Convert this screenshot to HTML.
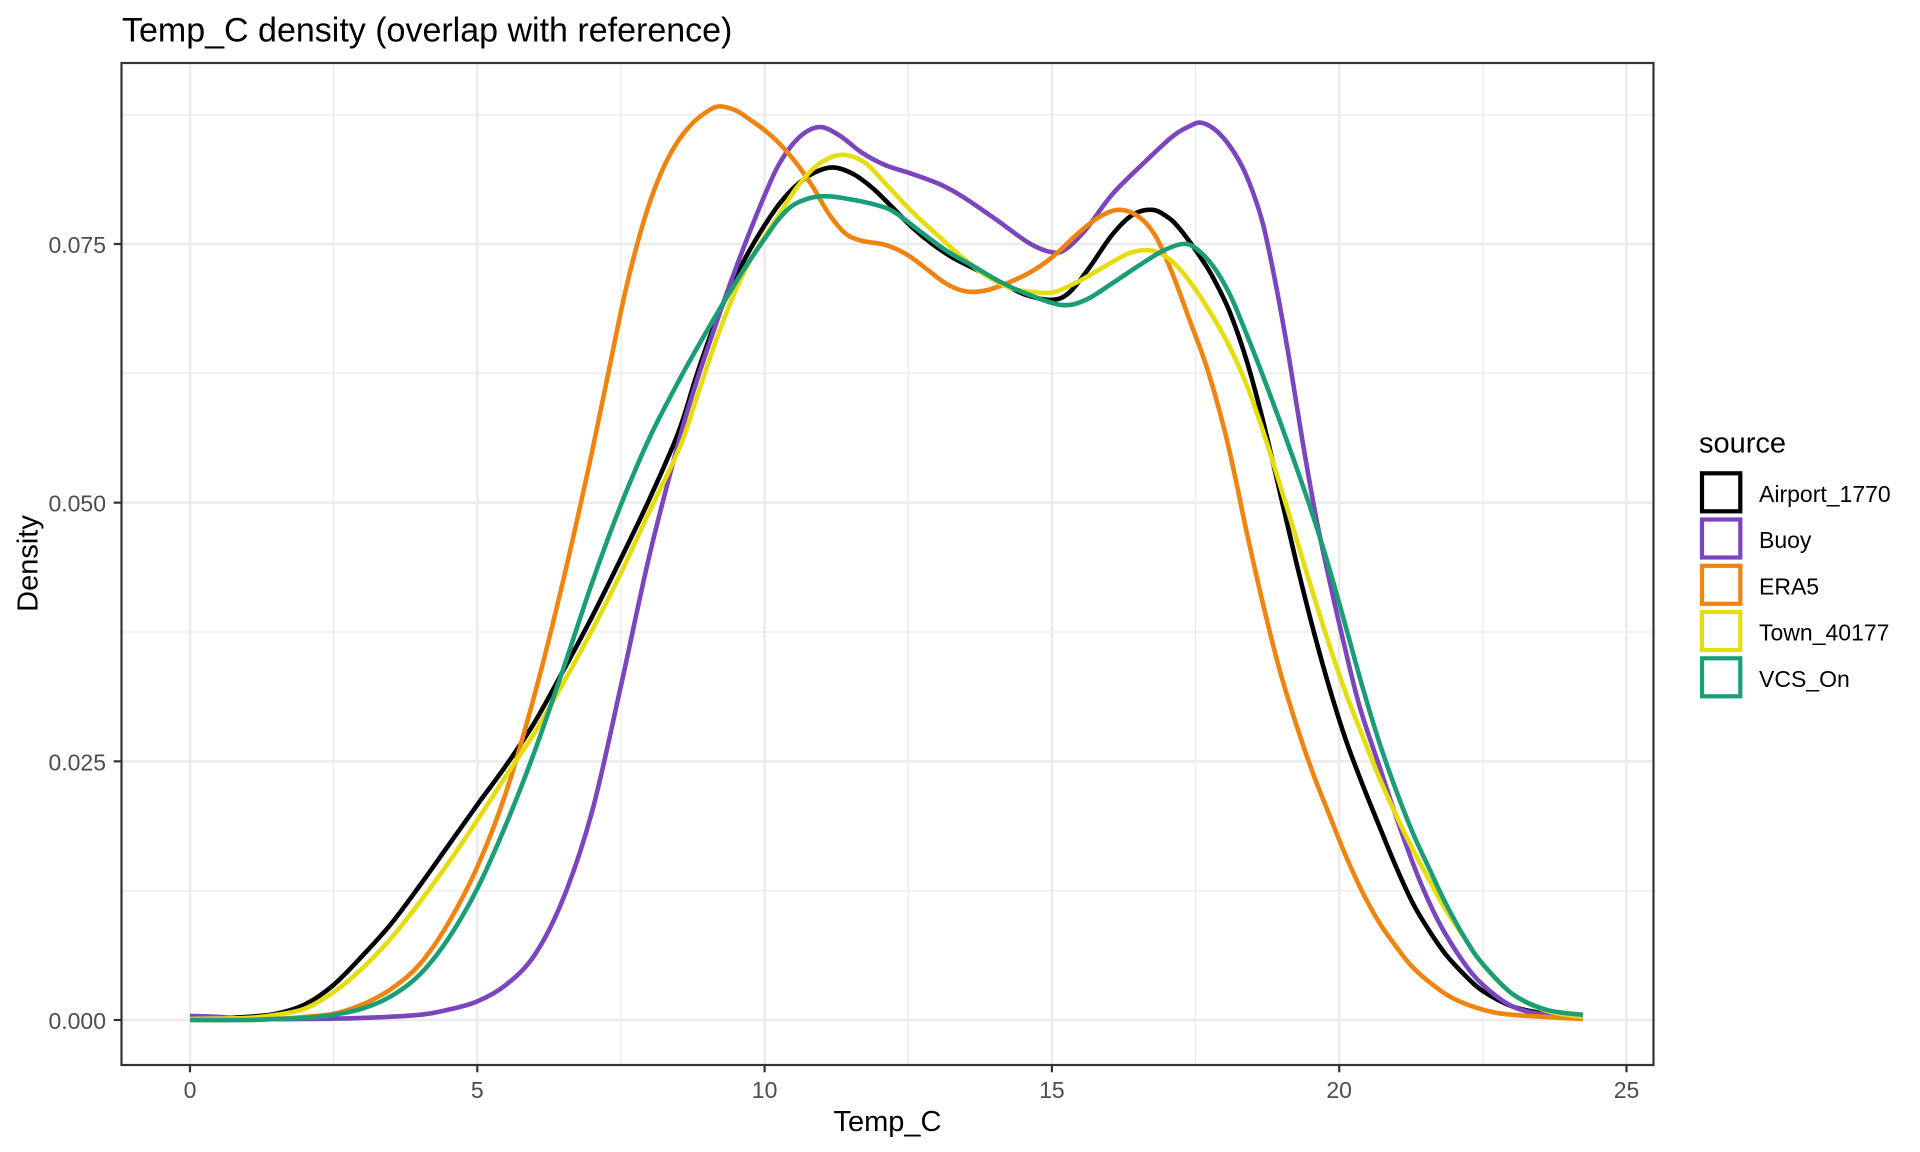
<!DOCTYPE html>
<html>
<head>
<meta charset="utf-8">
<style>
  html,body{margin:0;padding:0;background:#ffffff;}
  svg{display:block;}
  text{font-family:"Liberation Sans", Arial, sans-serif;}
</style>
</head>
<body>
<svg width="1920" height="1152" viewBox="0 0 1920 1152" xmlns="http://www.w3.org/2000/svg">
  <rect x="0" y="0" width="1920" height="1152" fill="#ffffff"/>

  <!-- Title -->
  <text x="122" y="41.7" font-size="34" fill="#000000">Temp_C density (overlap with reference)</text>

  <!-- Panel background -->
  <rect x="121.5" y="63" width="1532" height="1002" fill="#ffffff"/>

  <!-- Minor grid -->
  <g stroke="#EBEBEB" stroke-width="1.3" fill="none">
    <line x1="333.65" y1="63" x2="333.65" y2="1065"/>
    <line x1="620.95" y1="63" x2="620.95" y2="1065"/>
    <line x1="908.25" y1="63" x2="908.25" y2="1065"/>
    <line x1="1195.55" y1="63" x2="1195.55" y2="1065"/>
    <line x1="1482.85" y1="63" x2="1482.85" y2="1065"/>
    <line x1="121.5" y1="890.67" x2="1653.5" y2="890.67"/>
    <line x1="121.5" y1="632" x2="1653.5" y2="632"/>
    <line x1="121.5" y1="373.33" x2="1653.5" y2="373.33"/>
    <line x1="121.5" y1="114.67" x2="1653.5" y2="114.67"/>
  </g>
  <!-- Major grid -->
  <g stroke="#EBEBEB" stroke-width="2.5" fill="none">
    <line x1="190" y1="63" x2="190" y2="1065"/>
    <line x1="477.3" y1="63" x2="477.3" y2="1065"/>
    <line x1="764.6" y1="63" x2="764.6" y2="1065"/>
    <line x1="1051.9" y1="63" x2="1051.9" y2="1065"/>
    <line x1="1339.2" y1="63" x2="1339.2" y2="1065"/>
    <line x1="1626.5" y1="63" x2="1626.5" y2="1065"/>
    <line x1="121.5" y1="1020" x2="1653.5" y2="1020"/>
    <line x1="121.5" y1="761.33" x2="1653.5" y2="761.33"/>
    <line x1="121.5" y1="502.67" x2="1653.5" y2="502.67"/>
    <line x1="121.5" y1="244" x2="1653.5" y2="244"/>
  </g>

  <!-- Density curves (data coordinates) -->
  <g transform="matrix(57.46,0,0,-10346.7,190,1020)" fill="none" stroke-width="4.6" stroke-linejoin="round" stroke-linecap="butt">
    <polyline class="c" vector-effect="non-scaling-stroke" stroke="#000000" points="0,0.0003 0.5,0.0002 1,0.0003 1.5,0.0006 2,0.0015 2.5,0.0034 3,0.0062 3.5,0.0093 4,0.0130 4.5,0.0169 5,0.0208 5.5,0.0246 6,0.0288 6.5,0.0338 7,0.0390 7.5,0.0446 8,0.0504 8.5,0.0568 8.81,0.0622 9.1,0.0668 9.39,0.0706 9.68,0.0738 10,0.0768 10.26,0.0789 10.54,0.0806 10.83,0.0818 11.18,0.0824 11.53,0.0818 11.88,0.0804 12.23,0.0785 12.57,0.0766 12.92,0.0750 13.27,0.0737 13.73,0.0724 14.14,0.0712 14.54,0.0701 15,0.0696 15.3,0.0703 15.65,0.0727 16.05,0.0759 16.4,0.0778 16.75,0.0783 17.04,0.0775 17.22,0.0765 17.4,0.0752 17.6,0.0736 17.8,0.0718 18.09,0.0685 18.38,0.0639 18.67,0.0580 18.96,0.0512 19.25,0.0443 19.54,0.0379 19.83,0.0321 20.12,0.0270 20.41,0.0227 20.7,0.0187 20.99,0.0148 21.28,0.0113 21.57,0.0086 21.86,0.0063 22.21,0.0042 22.5,0.0028 23.02,0.0013 23.6,0.0006 24.24,0.0003"/>
    <polyline class="c" vector-effect="non-scaling-stroke" stroke="#7B45BE" points="0,0.0004 0.5,0.0003 1,0.0001 2,0.0001 3,0.0002 4,0.0005 4.5,0.0010 5,0.0018 5.5,0.0034 6,0.0063 6.5,0.0118 7,0.0202 7.5,0.0323 8,0.0450 8.52,0.0562 8.81,0.0616 9.1,0.0664 9.39,0.0710 9.68,0.0753 10,0.0797 10.26,0.0828 10.6,0.0853 10.95,0.0863 11.3,0.0855 11.7,0.0838 12.11,0.0826 12.5,0.0819 13.04,0.0808 13.44,0.0796 14.02,0.0774 14.6,0.0751 15,0.0742 15.24,0.0745 15.59,0.0764 16.05,0.0798 16.63,0.0830 17.1,0.0854 17.4,0.0864 17.62,0.0867 17.91,0.0857 18.2,0.0836 18.43,0.0810 18.67,0.0770 18.9,0.0710 19.13,0.0639 19.36,0.0560 19.6,0.0485 19.83,0.0425 20.06,0.0369 20.35,0.0304 20.7,0.0245 21.05,0.0187 21.4,0.0135 21.74,0.0094 22.15,0.0057 22.5,0.0034 23.02,0.0013 23.6,0.0005 24.24,0.0002"/>
    <polyline class="c" vector-effect="non-scaling-stroke" stroke="#EF8411" points="0,0.0000 1,0.0000 1.5,0.0001 2,0.0003 2.5,0.0006 3,0.0015 3.5,0.0030 4,0.0054 4.5,0.0094 5,0.0148 5.5,0.0220 6,0.0315 6.5,0.0426 7,0.0550 7.5,0.0685 7.75,0.0743 8,0.0790 8.25,0.0825 8.5,0.0850 8.75,0.0867 9,0.0878 9.21,0.0883 9.5,0.0879 9.75,0.0870 10,0.0860 10.26,0.0847 10.54,0.0829 10.83,0.0806 11.12,0.0779 11.41,0.0760 11.7,0.0753 12.11,0.0749 12.5,0.0739 12.86,0.0724 13.15,0.0712 13.44,0.0705 13.73,0.0704 14.08,0.0709 14.6,0.0722 15,0.0737 15.47,0.0761 15.82,0.0776 16.17,0.0783 16.52,0.0776 16.81,0.0757 17.1,0.0721 17.4,0.0676 17.7,0.0630 18.0,0.0571 18.2,0.0522 18.38,0.0474 18.67,0.0403 18.96,0.0339 19.25,0.0286 19.54,0.0239 19.83,0.0198 20.12,0.0158 20.41,0.0123 20.7,0.0094 20.99,0.0071 21.28,0.0051 21.63,0.0034 21.98,0.0021 22.5,0.0010 23.02,0.0005 24.24,0.0001"/>
    <polyline class="c" vector-effect="non-scaling-stroke" stroke="#E5DD10" points="0,0.0001 1,0.0002 1.5,0.0005 2,0.0011 2.5,0.0027 3,0.0050 3.5,0.0079 4,0.0114 4.5,0.0152 5,0.0193 5.5,0.0236 6,0.0278 6.5,0.0326 7,0.0377 7.5,0.0432 8,0.0492 8.52,0.0553 8.81,0.0600 9.1,0.0648 9.39,0.0691 9.68,0.0727 10,0.0757 10.26,0.0779 10.54,0.0803 10.83,0.0822 11.12,0.0833 11.41,0.0836 11.76,0.0828 12.11,0.0808 12.57,0.0781 13.04,0.0757 13.44,0.0737 13.84,0.0720 14.31,0.0707 14.78,0.0703 15.07,0.0704 15.47,0.0714 15.94,0.0729 16.34,0.0741 16.69,0.0744 16.98,0.0738 17.22,0.0726 17.5,0.0706 17.8,0.0680 18.09,0.0651 18.38,0.0615 18.67,0.0570 18.96,0.0519 19.25,0.0466 19.54,0.0413 19.83,0.0362 20.12,0.0315 20.41,0.0274 20.7,0.0234 20.99,0.0198 21.28,0.0165 21.57,0.0135 21.86,0.0106 22.21,0.0077 22.5,0.0054 23.02,0.0025 23.6,0.0009 24.24,0.0003"/>
    <polyline class="c" vector-effect="non-scaling-stroke" stroke="#1B9E77" points="0,0.0000 1,0.0000 1.5,0.0001 2,0.0002 2.5,0.0005 3,0.0011 3.5,0.0023 4,0.0044 4.5,0.0079 5,0.0127 5.5,0.0189 6,0.0260 6.5,0.0340 7,0.0423 7.5,0.0498 8,0.0563 8.5,0.0617 8.81,0.0648 9.1,0.0676 9.39,0.0703 9.68,0.0729 10,0.0755 10.26,0.0775 10.54,0.0789 10.95,0.0796 11.41,0.0794 11.99,0.0787 12.28,0.0780 12.69,0.0763 13.15,0.0744 13.62,0.0729 14.08,0.0714 14.6,0.0701 15.18,0.0691 15.59,0.0696 16.05,0.0712 16.51,0.0729 16.92,0.0743 17.27,0.0750 17.5,0.0746 17.8,0.0729 18.09,0.0702 18.38,0.0664 18.67,0.0623 18.96,0.0580 19.25,0.0535 19.54,0.0488 19.83,0.0436 20.12,0.0379 20.41,0.0321 20.7,0.0268 20.99,0.0222 21.28,0.0181 21.57,0.0146 21.86,0.0112 22.21,0.0077 22.5,0.0054 23.02,0.0025 23.6,0.0010 24.24,0.0005"/>
  </g>

  <!-- Panel border -->
  <rect x="121.5" y="63" width="1532" height="1002" fill="none" stroke="#333333" stroke-width="2.2"/>

  <!-- Axis ticks -->
  <g stroke="#333333" stroke-width="2.2">
    <line x1="190" y1="1065" x2="190" y2="1072.3"/>
    <line x1="477.3" y1="1065" x2="477.3" y2="1072.3"/>
    <line x1="764.6" y1="1065" x2="764.6" y2="1072.3"/>
    <line x1="1051.9" y1="1065" x2="1051.9" y2="1072.3"/>
    <line x1="1339.2" y1="1065" x2="1339.2" y2="1072.3"/>
    <line x1="1626.5" y1="1065" x2="1626.5" y2="1072.3"/>
    <line x1="113.7" y1="1020" x2="121.5" y2="1020"/>
    <line x1="113.7" y1="761.33" x2="121.5" y2="761.33"/>
    <line x1="113.7" y1="502.67" x2="121.5" y2="502.67"/>
    <line x1="113.7" y1="244" x2="121.5" y2="244"/>
  </g>

  <!-- X tick labels -->
  <g font-size="23" fill="#4D4D4D" text-anchor="middle">
    <text x="190" y="1098">0</text>
    <text x="477.3" y="1098">5</text>
    <text x="764.6" y="1098">10</text>
    <text x="1051.9" y="1098">15</text>
    <text x="1339.2" y="1098">20</text>
    <text x="1626.5" y="1098">25</text>
  </g>
  <!-- Y tick labels -->
  <g font-size="23" fill="#4D4D4D" text-anchor="end">
    <text x="106" y="1029">0.000</text>
    <text x="106" y="770.3">0.025</text>
    <text x="106" y="511.7">0.050</text>
    <text x="106" y="253">0.075</text>
  </g>

  <!-- Axis titles -->
  <text x="887.5" y="1131" font-size="29" fill="#000000" text-anchor="middle">Temp_C</text>
  <text transform="translate(37.5,563.5) rotate(-90)" x="0" y="0" font-size="29" fill="#000000" text-anchor="middle">Density</text>

  <!-- Legend -->
  <text x="1699" y="452.3" font-size="29" fill="#000000">source</text>
  <g fill="none" stroke-width="4.2">
    <rect x="1702" y="473.3" width="38.3" height="38" stroke="#000000"/>
    <rect x="1702" y="519.5" width="38.3" height="38" stroke="#7B45BE"/>
    <rect x="1702" y="565.8" width="38.3" height="38" stroke="#EF8411"/>
    <rect x="1702" y="612" width="38.3" height="38" stroke="#E5DD10"/>
    <rect x="1702" y="658.3" width="38.3" height="38" stroke="#1B9E77"/>
  </g>
  <g font-size="23" fill="#000000">
    <text x="1759" y="502">Airport_1770</text>
    <text x="1759" y="548.2">Buoy</text>
    <text x="1759" y="594.4">ERA5</text>
    <text x="1759" y="640.6">Town_40177</text>
    <text x="1759" y="686.8">VCS_On</text>
  </g>
</svg>
<script>
(function(){
  var NS = "http://www.w3.org/2000/svg";
  var pls = document.querySelectorAll("polyline.c");
  for (var k = 0; k < pls.length; k++) {
    var pl = pls[k];
    var pts = pl.getAttribute("points").trim().split(/\s+/).map(function(p){return p.split(",").map(Number);});
    var n = pts.length;
    var d = "M" + pts[0][0] + "," + pts[0][1];
    for (var i = 0; i < n - 1; i++) {
      var p0 = pts[i-1] || pts[i], p1 = pts[i], p2 = pts[i+1], p3 = pts[i+2] || pts[i+1];
      var c1x = p1[0] + (p2[0]-p0[0])/6, c1y = p1[1] + (p2[1]-p0[1])/6;
      var c2x = p2[0] - (p3[0]-p1[0])/6, c2y = p2[1] - (p3[1]-p1[1])/6;
      d += " C" + c1x + "," + c1y + " " + c2x + "," + c2y + " " + p2[0] + "," + p2[1];
    }
    var path = document.createElementNS(NS, "path");
    path.setAttribute("d", d);
    path.setAttribute("stroke", pl.getAttribute("stroke"));
    path.setAttribute("fill", "none");
    path.setAttribute("vector-effect", "non-scaling-stroke");
    pl.parentNode.replaceChild(path, pl);
  }
})();
</script>
</body>
</html>
